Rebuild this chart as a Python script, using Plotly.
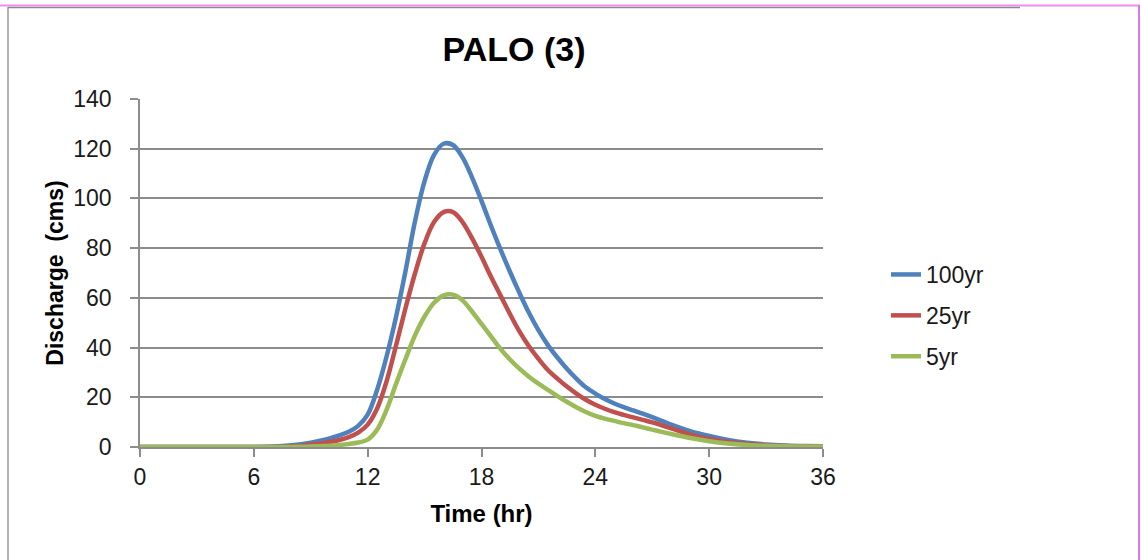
import plotly.graph_objects as go

# Hydrograph at PALO (3): discharge (cms) for three return periods.
# Readings are hourly, with half-hour readings from 8 to 28 hr.
hours = ([0, 1, 2, 3, 4, 5, 6, 7]
         + [8 + 0.5 * i for i in range(41)]
         + [29, 30, 31, 32, 33, 34, 35, 36])

q_100yr = ([0, 0, 0, 0, 0, 0, 0, 0.2]
           + [0.7, 1.1, 1.7, 2.5, 3.5, 4.7, 6.1, 8.5, 13, 23, 36.5, 52.5, 71,
              91, 107, 117.5, 122, 121.5, 116.5, 108.5, 99, 89, 79.5, 70.5, 62,
              54, 47, 41, 36, 31.5, 27.5, 24, 21.5, 19.3, 17.5, 16, 14.7, 13.4,
              12, 10.5, 9]
           + [6.4, 4.4, 2.8, 1.7, 1.0, 0.6, 0.4, 0.3])
q_25yr = ([0, 0, 0, 0, 0, 0, 0, 0]
          + [0.3, 0.5, 0.9, 1.4, 2.0, 2.8, 4.0, 5.8, 9, 15.5, 26.5, 41, 56, 70,
             82, 90.5, 94.5, 94.5, 90.5, 84, 76.5, 68.5, 61, 53.5, 46.5, 40.5,
             35.5, 31, 27.5, 24.3, 21.5, 19, 17, 15.4, 14, 12.9, 11.9, 10.9,
             9.9, 8.7, 7.5]
          + [5, 3.2, 2, 1.2, 0.7, 0.4, 0.3, 0.2])
q_5yr = ([0, 0, 0, 0, 0, 0, 0, 0]
         + [0, 0.1, 0.2, 0.35, 0.5, 0.8, 1.2, 1.8, 3, 7, 15, 25.5, 35.5, 45,
            52.5, 58, 61, 61.3, 59, 54.5, 49.5, 44.5, 39.5, 35.2, 31.5, 28.3,
            25.5, 23, 20.5, 18.2, 16, 14.1, 12.5, 11.4, 10.5, 9.6, 8.8, 7.9, 7,
            6.1, 5.2]
         + [3.6, 2.3, 1.4, 0.8, 0.5, 0.3, 0.2, 0.2])

series_names = ["100yr", "25yr", "5yr"]
series_values = [q_100yr, q_25yr, q_5yr]
series_colors = ["#4F81BD", "#C0504D", "#9BBB59"]

x_ticks = [0, 6, 12, 18, 24, 30, 36]
y_ticks = [0, 20, 40, 60, 80, 100, 120, 140]

FONT = "Liberation Sans, Arial, sans-serif"
GRID = "#8C8C8C"

fig = go.Figure()
for name, vals, col in zip(series_names, series_values, series_colors):
    fig.add_trace(go.Scatter(
        x=hours, y=vals, name=name, mode="lines", legendgroup=name,
        line=dict(color=col, width=4.5, shape="spline", smoothing=1.0),
        hoverinfo="x+y+name",
    ))

W, H = 1141, 560
L, R, T, B = 140, 318, 99, 113
pw, ph = W - L - R, H - T - B


def px_x(p):
    return (p - L) / pw


def px_y(p):
    return (H - B - p) / ph


# chart-area frame lines
frame = [
    dict(x0=px_x(8), x1=px_x(8), y0=px_y(7), y1=px_y(H + 5), color="#9A9A9A", w=1.5),
    dict(x0=px_x(8), x1=px_x(1020), y0=px_y(7.5), y1=px_y(7.5), color="#8A8A8A", w=1.5),
    dict(x0=px_x(0), x1=px_x(1140), y0=px_y(5.5), y1=px_y(5.5), color="#EE8CF6", w=2),
    dict(x0=px_x(1139), x1=px_x(1139), y0=px_y(5), y1=px_y(H + 5), color="#DA78EE", w=2),
]
shapes = [dict(type="line", xref="paper", yref="paper", x0=f["x0"], x1=f["x1"],
               y0=f["y0"], y1=f["y1"], line=dict(color=f["color"], width=f["w"]))
          for f in frame]

fig.update_layout(
    width=W, height=H, autosize=False,
    margin=dict(l=L, r=R, t=T, b=B, pad=0),
    paper_bgcolor="white", plot_bgcolor="white",
    font=dict(family=FONT, color="#1A1A1A", size=23),
    title=dict(text="<b>PALO (3)</b>", font=dict(size=34, color="#000000"),
               x=px_x(514), xref="paper", xanchor="center",
               y=1 - 49 / H, yref="container", yanchor="middle"),
    xaxis=dict(
        range=[0, 36], tickvals=x_ticks, ticktext=[str(v) for v in x_ticks],
        showgrid=False, zeroline=False, showline=True, linecolor=GRID, linewidth=1.5,
        ticks="outside", ticklen=8, tickcolor=GRID, tickwidth=1.5,
        tickfont=dict(size=23), ticklabelstandoff=1,
        title=dict(text="<b>Time (hr)</b>", font=dict(size=24, color="#000000"), standoff=16),
    ),
    yaxis=dict(
        range=[0, 140], tickvals=y_ticks, ticktext=[str(v) for v in y_ticks],
        showgrid=True, gridcolor=GRID, gridwidth=1.5, zeroline=False,
        showline=True, linecolor=GRID, linewidth=1.5,
        ticks="outside", ticklen=8, tickcolor=GRID, tickwidth=1.5,
        tickfont=dict(size=23), ticklabelstandoff=14,
        title=dict(text="<b>Discharge  (cms)</b>", font=dict(size=23, color="#000000"), standoff=3),
    ),
    legend=dict(
        x=px_x(886), xanchor="left", xref="paper",
        y=px_y(253), yanchor="top", yref="paper",
        font=dict(size=23, color="#1A1A1A"), tracegroupgap=8,
        bgcolor="rgba(0,0,0,0)", borderwidth=0,
    ),
    shapes=shapes,
    showlegend=True,
)

fig.write_html("out.html")
